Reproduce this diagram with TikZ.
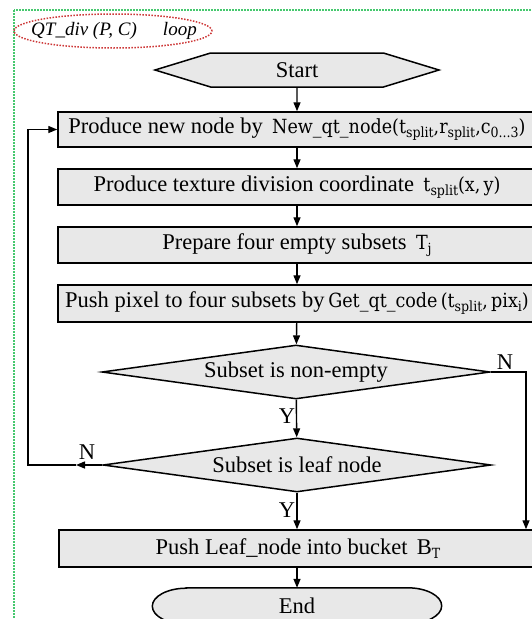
\documentclass[tikz,border=0pt]{standalone}
\usepackage{fontspec}
\setmainfont{Liberation Serif}
\newfontfamily\cambria{DejaVu Serif Condensed}
\usetikzlibrary{shapes.geometric,shapes.symbols,arrows.meta,backgrounds}
\definecolor{boxgray}{RGB}{232,232,232}
\definecolor{framegreen}{RGB}{70,200,110}
\definecolor{ovalred}{RGB}{205,55,55}
\newcommand{\cmb}[1]{{\cambria\fontsize{19.5}{22}\selectfont #1}}
\newcommand{\lowsub}[1]{\raisebox{-4pt}{\cambria\fontsize{14}{14}\selectfont #1}}
\tikzset{
  flowbox/.style={draw,fill=boxgray,line width=1.5pt,minimum width=478pt,minimum height=35pt,inner sep=0pt},
  decision/.style={draw,fill=boxgray,diamond,aspect=7.2,line width=1.5pt,minimum width=388pt,minimum height=54pt,inner sep=0pt},
  flow/.style={line width=1.4pt,-{Triangle[length=9pt,width=7pt]}},
  lbl/.style={inner sep=0pt}
}
\begin{document}
\begin{tikzpicture}[x=1pt,y=-1pt,font=\fontsize{22.5}{27}\selectfont]
                \clip(0,0) rectangle (532,619);
                \draw[framegreen,line width=1.5pt,dash pattern=on 1.5pt off 1.5pt](14,10) rectangle (560,660);
                \draw[ovalred,line width=1.5pt,dash pattern=on 1.5pt off 1.5pt](113,31) ellipse [x radius=99pt,y radius=17pt];
                \node[lbl](title) at(114,31){\fontsize{19}{21}\selectfont\itshape QT\_div (P, C)\hspace{26pt}loop};
                \node[draw,fill=boxgray,line width=1.5pt,signal,signal to=west and east,signal pointer angle=34,minimum width=284pt,minimum height=34pt,inner sep=0pt](start) at(297,70){Start};
                \node[flowbox](produce) at(297,129.5){Produce new node by \,\cmb{New\_qt\_node(t\lowsub{split},r\lowsub{split},c\lowsub{0...3})}};
                \node[flowbox,minimum height=36pt](coord) at(297,187){Produce texture division coordinate \,\cmb{t\lowsub{split}(x,\,y)}};
                \node[flowbox,minimum height=36pt](subsets) at(297,245){Prepare four empty subsets \,\cmb{T\lowsub{j}}};
                \node[flowbox,minimum height=37pt](push) at(297,303.5){Push pixel to four subsets by\,\cmb{Get\_qt\_code\,(t\lowsub{split},\,pix\lowsub{i})}\hspace{10pt}};
                \node[decision](nonempty) at(296,372){Subset is non-empty};
                \node[decision](leaf) at(297,465){Subset is leaf node};
                \node[flowbox,minimum height=37pt](bucket) at(298,548.5){Push Leaf\_node into bucket \,B\lowsub{T}};
                \node[minimum width=289pt,minimum height=36pt,inner sep=0pt](finish) at(297,606){End};
                \begin{pgfonlayer}{background}
                \draw[fill=boxgray,line width=1.5pt]([xshift=34pt]finish.north west)--([xshift=-34pt]finish.north east)
                  arc[start angle=90,end angle=-90,x radius=34pt,y radius=18pt]
                  --([xshift=34pt]finish.south west)
                  arc[start angle=270,end angle=90,x radius=34pt,y radius=18pt]--cycle;
                \end{pgfonlayer}
                \coordinate(loopmid) at(76,465);
                \coordinate(loopleft) at(28,465);
                \coordinate(nright) at(526,372);
                \draw[flow](start)--(produce);
                \draw[flow](produce)--(coord);
                \draw[flow](coord)--(subsets);
                \draw[flow](subsets)--(push);
                \draw[flow](push)--(nonempty);
                \draw[flow](nonempty)--(leaf);
                \draw[flow](leaf.south)--(leaf.south |- bucket.north);
                \draw[flow](bucket.south -| finish.north)--(finish.north);
                \draw[flow](leaf.west)--(loopmid);
                \draw[flow](loopmid)--(loopleft)|-(produce.west);
                \draw[flow](nonempty.east)--(nright)--(nright |- bucket.north);
                \node[lbl](n1) at(505,362){N};
                \node[lbl](n2) at(87,452){N};
                \node[lbl](y1) at(287,416){Y};
                \node[lbl](y2) at(287,510){Y};
            \end{tikzpicture}
\end{document}
